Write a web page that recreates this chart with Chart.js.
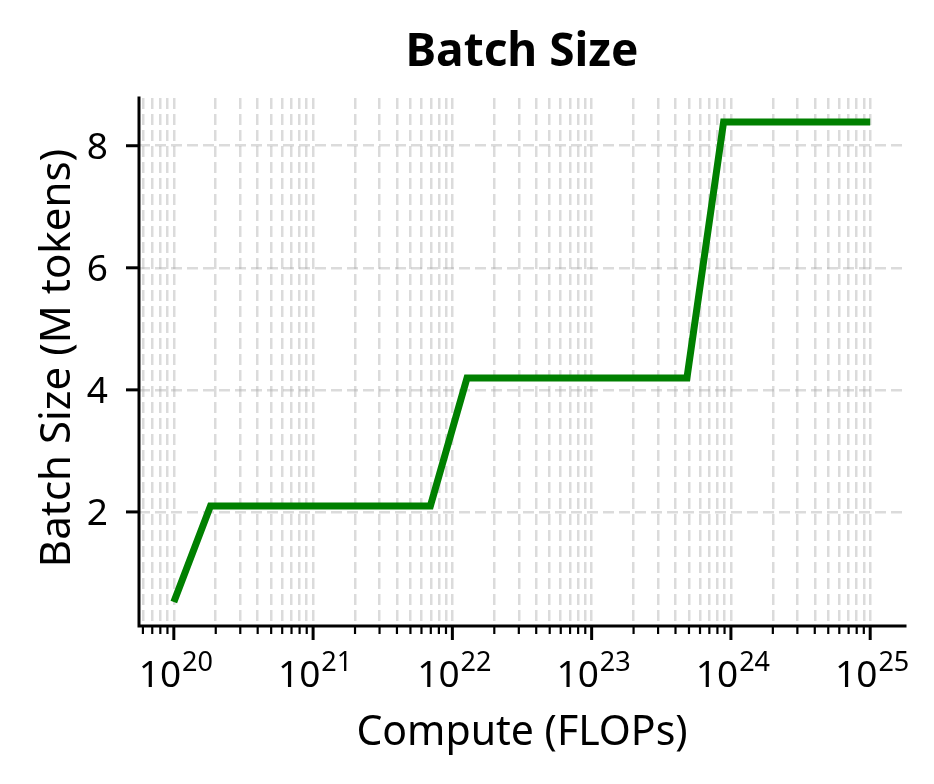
<!DOCTYPE html>
<html>
<head>
<meta charset="utf-8">
<script src="https://cdn.jsdelivr.net/npm/chart.js@4"></script>
<style>
  html, body { margin: 0; padding: 0; background: #fff; }
  canvas { display: block; }
</style>
</head>
<body>
<canvas id="batchChart" width="934" height="784"></canvas>
<script>
// compute budget (FLOPs) and batch size (M tokens)
const computeFlops = [
  1.000e20, 1.833e20, 3.360e20, 6.158e20, 1.129e21, 2.069e21, 3.793e21,
  6.952e21, 1.274e22, 2.336e22, 4.281e22, 7.848e22, 1.438e23, 2.637e23,
  4.833e23, 8.859e23, 1.624e24, 2.976e24, 5.456e24, 1.000e25
];
const batchSizes = [
  0.524, 2.097, 2.097, 2.097, 2.097, 2.097, 2.097,
  2.097, 4.194, 4.194, 4.194, 4.194, 4.194, 4.194,
  4.194, 8.389, 8.389, 8.389, 8.389, 8.389
];
const xTickExponents = [20, 21, 22, 23, 24, 25];
const yTickValues = [2, 4, 6, 8];
const xLimits = [5.623e19, 1.778e25];
const yLimits = [0.131, 8.782];

const FONT = '"Noto Sans", sans-serif';
const GRID_COLOR = 'rgba(170, 170, 170, 0.42)';

// every 1..9 multiple inside the x range -> gridlines + ticks
function logGridValues() {
  const vals = [];
  for (let e = 19; e <= 25; e++) {
    for (let m = 1; m <= 9; m++) {
      const v = m * Math.pow(10, e);
      if (v >= xLimits[0] && v <= xLimits[1]) vals.push(v);
    }
  }
  return vals;
}

// spines, tick marks, tick labels and titles (matplotlib look)
const axisDecor = {
  id: 'axisDecor',
  afterDraw(chart) {
    const { ctx, chartArea: a, scales: { x, y } } = chart;
    ctx.save();
    ctx.strokeStyle = '#000';
    ctx.fillStyle = '#000';

    // spines
    ctx.lineWidth = 3;
    ctx.lineCap = 'square';
    ctx.beginPath();
    ctx.moveTo(a.left, a.top);
    ctx.lineTo(a.left, a.bottom);
    ctx.lineTo(a.right, a.bottom);
    ctx.stroke();
    ctx.lineCap = 'butt';

    // y ticks
    ctx.font = '37px ' + FONT;
    ctx.textAlign = 'right';
    ctx.textBaseline = 'alphabetic';
    yTickValues.forEach(v => {
      const py = y.getPixelForValue(v);
      ctx.lineWidth = 3;
      ctx.beginPath();
      ctx.moveTo(a.left - 13, py);
      ctx.lineTo(a.left, py);
      ctx.stroke();
      ctx.fillText(String(v), a.left - 31, py + 13);
    });

    // x ticks (major + minor)
    x.ticks.forEach(t => {
      const px = x.getPixelForValue(t.value);
      const exp = Math.log10(t.value);
      const major = Math.abs(exp - Math.round(exp)) < 1e-6;
      ctx.lineWidth = major ? 3 : 2.2;
      ctx.beginPath();
      ctx.moveTo(px, a.bottom);
      ctx.lineTo(px, a.bottom + (major ? 14 : 8));
      ctx.stroke();
    });

    // x tick labels 10^n
    xTickExponents.forEach(e => {
      const px = x.getPixelForValue(Math.pow(10, e));
      ctx.font = '37px ' + FONT;
      const wBase = ctx.measureText('10').width;
      ctx.font = '27px ' + FONT;
      const wSup = ctx.measureText(String(e)).width;
      const left = px - (wBase + wSup + 1) / 2 + 2;
      ctx.textAlign = 'left';
      ctx.font = '37px ' + FONT;
      ctx.fillText('10', left, 687);
      ctx.font = '27px ' + FONT;
      ctx.fillText(String(e), left + wBase + 1, 671);
    });

    const cx = (a.left + a.right) / 2;
    ctx.textAlign = 'center';

    // title
    ctx.font = 'bold 46px ' + FONT;
    ctx.fillText('Batch Size', cx, 66);

    // x axis title
    ctx.font = '41px ' + FONT;
    ctx.fillText('Compute (FLOPs)', cx, 745);

    // y axis title
    ctx.save();
    ctx.translate(70, (a.top + a.bottom) / 2 - 4);
    ctx.rotate(-Math.PI / 2);
    ctx.font = '42px ' + FONT;
    ctx.fillText('Batch Size (M tokens)', 0, 0);
    ctx.restore();

    ctx.restore();
  }
};

const ctx = document.getElementById('batchChart').getContext('2d');
new Chart(ctx, {
  type: 'line',
  data: {
    datasets: [{
      label: 'Batch Size',
      data: computeFlops.map((c, i) => ({ x: c, y: batchSizes[i] })),
      borderColor: '#008000',
      borderWidth: 7,
      borderJoinStyle: 'miter',
      pointRadius: 0,
      tension: 0,
      fill: false
    }]
  },
  options: {
    responsive: false,
    animation: false,
    devicePixelRatio: 1,
    layout: { padding: { top: 98, right: 29, left: 0, bottom: 0 } },
    plugins: {
      legend: { display: false },
      tooltip: { enabled: false },
      title: { display: false }
    },
    scales: {
      x: {
        type: 'logarithmic',
        min: xLimits[0],
        max: xLimits[1],
        afterBuildTicks: axis => { axis.ticks = logGridValues().map(v => ({ value: v })); },
        afterFit: axis => { axis.height = 158; },
        ticks: { display: false },
        grid: { color: GRID_COLOR, lineWidth: 2.5, drawTicks: false },
        border: { display: false, dash: [11, 5] }
      },
      y: {
        type: 'linear',
        min: yLimits[0],
        max: yLimits[1],
        afterBuildTicks: axis => { axis.ticks = yTickValues.map(v => ({ value: v })); },
        afterFit: axis => { axis.width = 139; },
        ticks: { display: false },
        grid: { color: GRID_COLOR, lineWidth: 2.5, drawTicks: false },
        border: { display: false, dash: [11, 5] }
      }
    }
  },
  plugins: [axisDecor]
});
</script>
</body>
</html>
